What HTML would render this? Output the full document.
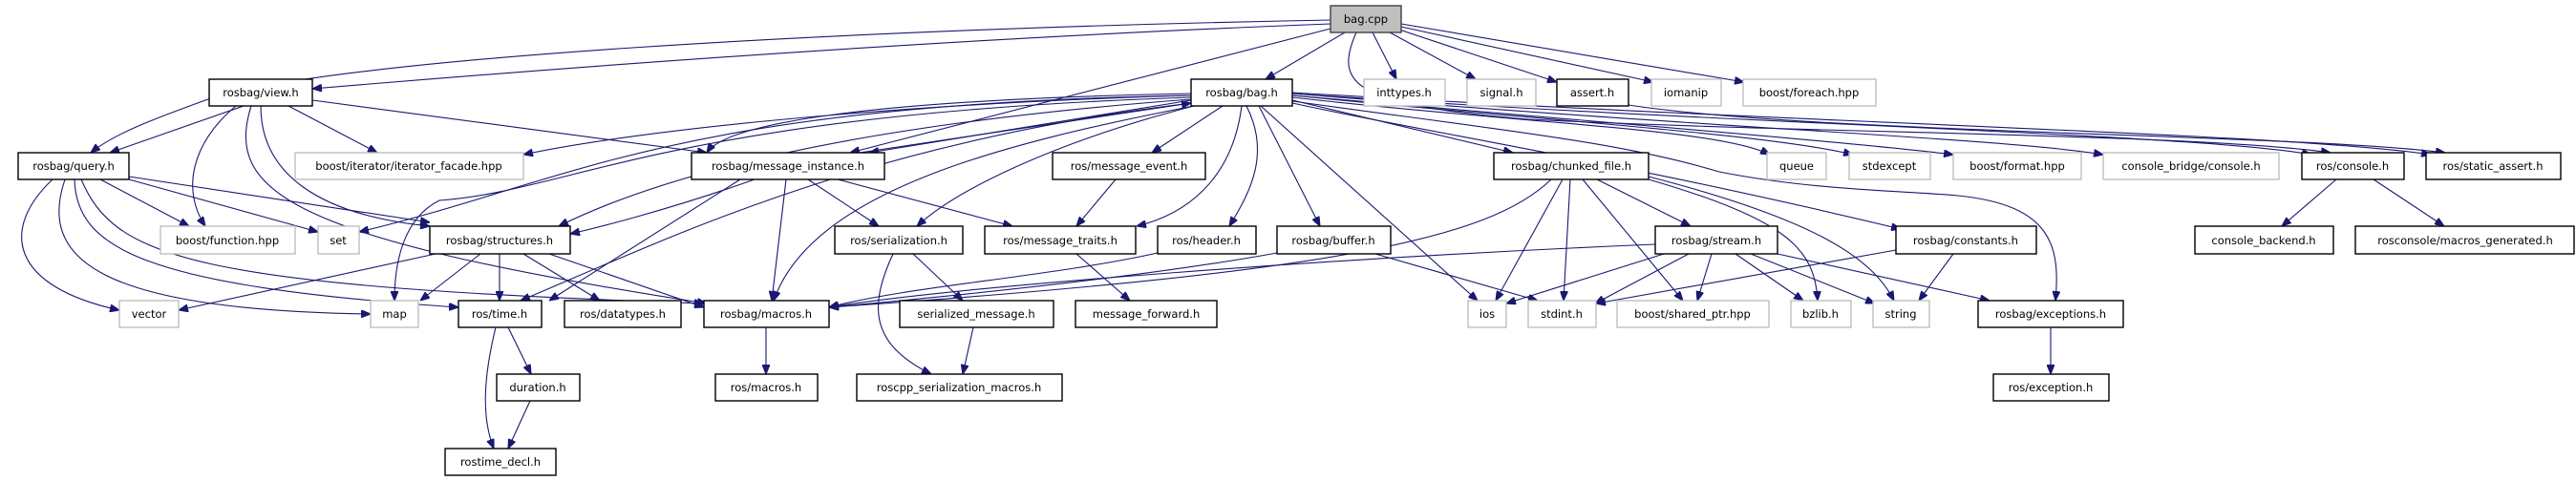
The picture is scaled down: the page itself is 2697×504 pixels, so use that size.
<!DOCTYPE html>
<html><head><meta charset="utf-8"><style>
html,body{margin:0;padding:0;background:#fff}
svg{display:block}
text{font-family:"DejaVu Sans","Liberation Sans",sans-serif;font-size:11.5px;fill:#000}
.b{fill:#fff;stroke:#000;stroke-width:1.4}
.g{fill:#fff;stroke:#bfbfbf;stroke-width:1.4}
.r{fill:#bfbfbf;stroke:#404040;stroke-width:1.4}
path{fill:none;stroke:#191970;stroke-width:1.1}
</style></head><body>
<svg width="2697" height="504" viewBox="0 0 2697 504" xmlns="http://www.w3.org/2000/svg">
<defs><marker id="a" markerWidth="10" markerHeight="8" refX="10" refY="4" orient="auto" markerUnits="userSpaceOnUse"><path d="M0,0 L10,4 L0,8 Z" style="fill:#191970;stroke:#191970"/></marker></defs>
<g marker-end="url(#a)">
<path d="M1393,21 C900,30 350,60 215,105 C160,125 120,140 95,160"/>
<path d="M1393,25 C1000,40 600,70 327,93"/>
<path d="M1393,30 L890,160"/>
<path d="M1408,34 L1325,83"/>
<path d="M1420,34 C1395,90 1420,110 1600,125 C1900,140 2300,140 2440,160"/>
<path d="M1437,34 L1462,83"/>
<path d="M1455,34 L1545,83"/>
<path d="M1465,31 L1630,86"/>
<path d="M1467,28 L1731,86"/>
<path d="M1467,25 L1826,86"/>
<path d="M1705,110 C1900,140 2400,140 2560,160"/>
<path d="M255,111 L115,160"/>
<path d="M247,111 C200,150 190,200 215,237"/>
<path d="M273,111 C273,180 330,225 450,237"/>
<path d="M263,111 C235,200 300,250 740,318"/>
<path d="M302,111 L395,160"/>
<path d="M327,105 L740,160"/>
<path d="M55,188 C0,240 10,300 125,325"/>
<path d="M68,188 C40,270 100,325 388,329"/>
<path d="M78,188 C80,260 150,300 480,322"/>
<path d="M85,188 C120,270 200,300 737,318"/>
<path d="M105,188 L198,237"/>
<path d="M135,188 L333,243"/>
<path d="M135,185 L450,233"/>
<path d="M1247,105 L910,160"/>
<path d="M1247,98 C900,105 760,130 740,160"/>
<path d="M1247,100 C900,110 650,140 548,162"/>
<path d="M1247,100 C700,110 600,190 376,243"/>
<path d="M1247,102 C700,120 600,200 460,210 C420,230 413,280 413,315"/>
<path d="M1247,104 C900,130 700,180 585,237"/>
<path d="M1250,111 C1050,150 850,200 810,315"/>
<path d="M1250,111 C1100,150 1000,200 960,237"/>
<path d="M1300,111 C1290,190 1240,225 1190,237"/>
<path d="M1305,111 C1330,160 1310,200 1287,237"/>
<path d="M1280,111 L1206,160"/>
<path d="M1318,111 L1382,237"/>
<path d="M1320,111 L1547,315"/>
<path d="M1353,105 L1584,160"/>
<path d="M1353,102 C1600,130 1800,135 1853,162"/>
<path d="M1353,100 C1600,125 1850,140 1940,162"/>
<path d="M1353,100 C1700,130 1950,150 2045,162"/>
<path d="M1353,98 C1800,135 2100,145 2202,162"/>
<path d="M1353,98 C1800,130 2300,140 2420,162"/>
<path d="M1353,97 C1900,130 2400,140 2545,162"/>
<path d="M1353,108 C1500,140 1700,170 1990,240"/>
<path d="M1353,106 C1600,140 1700,150 1800,180 C1900,200 2000,200 2050,205 C2150,215 2157,260 2152,315"/>
<path d="M1247,108 C900,150 700,250 545,315"/>
<path d="M790,188 C700,220 620,240 597,245"/>
<path d="M775,188 L575,315"/>
<path d="M823,188 L808,315"/>
<path d="M846,188 L920,237"/>
<path d="M877,188 L1060,237"/>
<path d="M900,160 L1247,108"/>
<path d="M456,266 L187,325"/>
<path d="M503,266 L440,315"/>
<path d="M523,266 L523,315"/>
<path d="M548,266 L628,315"/>
<path d="M575,266 L737,322"/>
<path d="M519,343 C505,400 505,440 517,470"/>
<path d="M532,343 L556,392"/>
<path d="M555,420 L532,470"/>
<path d="M935,266 C910,320 910,360 975,392"/>
<path d="M956,266 L1008,315"/>
<path d="M1019,343 L1008,392"/>
<path d="M802,343 L802,392"/>
<path d="M1127,266 L1183,315"/>
<path d="M1168,188 L1127,237"/>
<path d="M1212,265 C1100,290 950,300 868,322"/>
<path d="M1337,265 C1200,290 1000,310 868,322"/>
<path d="M1440,266 L1610,315"/>
<path d="M1624,188 C1560,250 1400,285 868,322"/>
<path d="M1636,188 L1566,315"/>
<path d="M1644,188 L1637,315"/>
<path d="M1657,188 L1762,315"/>
<path d="M1672,188 L1770,237"/>
<path d="M1726,188 C1870,230 1900,260 1903,315"/>
<path d="M1726,185 C1900,230 1960,270 1983,315"/>
<path d="M1733,256 C1400,270 1000,300 868,322"/>
<path d="M1742,266 L1577,318"/>
<path d="M1768,266 L1670,318"/>
<path d="M1792,266 L1777,315"/>
<path d="M1817,266 L1888,315"/>
<path d="M1833,266 L1963,318"/>
<path d="M1861,266 L2083,315"/>
<path d="M1985,262 L1671,318"/>
<path d="M2045,266 L2009,315"/>
<path d="M2147,343 L2147,392"/>
<path d="M2446,188 L2389,237"/>
<path d="M2485,188 L2559,237"/>
</g>
<g text-anchor="middle">
<rect class="r" x="1393" y="6" width="74" height="28"/><text x="1430" y="24">bag.cpp</text>
<rect class="b" x="219" y="83" width="108" height="28"/><text x="273" y="101">rosbag/view.h</text>
<rect class="b" x="1247" y="83" width="106" height="28"/><text x="1300" y="101">rosbag/bag.h</text>
<rect class="g" x="1428" y="83" width="85" height="28"/><text x="1470" y="101">inttypes.h</text>
<rect class="g" x="1536" y="83" width="72" height="28"/><text x="1572" y="101">signal.h</text>
<rect class="b" x="1630" y="83" width="75" height="28"/><text x="1667" y="101">assert.h</text>
<rect class="g" x="1729" y="83" width="73" height="28"/><text x="1765" y="101">iomanip</text>
<rect class="g" x="1825" y="83" width="139" height="28"/><text x="1894" y="101">boost/foreach.hpp</text>
<rect class="b" x="19" y="160" width="116" height="28"/><text x="77" y="178">rosbag/query.h</text>
<rect class="g" x="309" y="160" width="239" height="28"/><text x="428" y="178">boost/iterator/iterator_facade.hpp</text>
<rect class="b" x="724" y="160" width="202" height="28"/><text x="825" y="178">rosbag/message_instance.h</text>
<rect class="b" x="1102" y="160" width="160" height="28"/><text x="1182" y="178">ros/message_event.h</text>
<rect class="b" x="1564" y="160" width="162" height="28"/><text x="1645" y="178">rosbag/chunked_file.h</text>
<rect class="g" x="1850" y="160" width="62" height="28"/><text x="1881" y="178">queue</text>
<rect class="g" x="1936" y="160" width="85" height="28"/><text x="1978" y="178">stdexcept</text>
<rect class="g" x="2045" y="160" width="134" height="28"/><text x="2112" y="178">boost/format.hpp</text>
<rect class="g" x="2202" y="160" width="184" height="28"/><text x="2294" y="178">console_bridge/console.h</text>
<rect class="b" x="2410" y="160" width="107" height="28"/><text x="2463" y="178">ros/console.h</text>
<rect class="b" x="2540" y="160" width="141" height="28"/><text x="2610" y="178">ros/static_assert.h</text>
<rect class="g" x="168" y="237" width="141" height="29"/><text x="238" y="256">boost/function.hpp</text>
<rect class="g" x="333" y="237" width="43" height="29"/><text x="354" y="256">set</text>
<rect class="b" x="450" y="237" width="147" height="29"/><text x="523" y="256">rosbag/structures.h</text>
<rect class="b" x="874" y="237" width="134" height="29"/><text x="941" y="256">ros/serialization.h</text>
<rect class="b" x="1031" y="237" width="158" height="29"/><text x="1110" y="256">ros/message_traits.h</text>
<rect class="b" x="1212" y="237" width="103" height="29"/><text x="1263" y="256">ros/header.h</text>
<rect class="b" x="1337" y="237" width="119" height="29"/><text x="1396" y="256">rosbag/buffer.h</text>
<rect class="b" x="1733" y="237" width="128" height="29"/><text x="1797" y="256">rosbag/stream.h</text>
<rect class="b" x="1985" y="237" width="147" height="29"/><text x="2058" y="256">rosbag/constants.h</text>
<rect class="b" x="2298" y="237" width="145" height="29"/><text x="2370" y="256">console_backend.h</text>
<rect class="b" x="2466" y="237" width="229" height="29"/><text x="2581" y="256">rosconsole/macros_generated.h</text>
<rect class="g" x="125" y="315" width="62" height="28"/><text x="156" y="333">vector</text>
<rect class="g" x="388" y="315" width="50" height="28"/><text x="413" y="333">map</text>
<rect class="b" x="480" y="315" width="87" height="28"/><text x="523" y="333">ros/time.h</text>
<rect class="b" x="591" y="315" width="122" height="28"/><text x="652" y="333">ros/datatypes.h</text>
<rect class="b" x="737" y="315" width="131" height="28"/><text x="802" y="333">rosbag/macros.h</text>
<rect class="b" x="942" y="315" width="161" height="28"/><text x="1022" y="333">serialized_message.h</text>
<rect class="b" x="1126" y="315" width="148" height="28"/><text x="1200" y="333">message_forward.h</text>
<rect class="g" x="1537" y="315" width="40" height="28"/><text x="1557" y="333">ios</text>
<rect class="g" x="1600" y="315" width="71" height="28"/><text x="1635" y="333">stdint.h</text>
<rect class="g" x="1693" y="315" width="159" height="28"/><text x="1772" y="333">boost/shared_ptr.hpp</text>
<rect class="g" x="1875" y="315" width="63" height="28"/><text x="1906" y="333">bzlib.h</text>
<rect class="g" x="1961" y="315" width="59" height="28"/><text x="1990" y="333">string</text>
<rect class="b" x="2071" y="315" width="152" height="28"/><text x="2147" y="333">rosbag/exceptions.h</text>
<rect class="b" x="520" y="392" width="87" height="28"/><text x="563" y="410">duration.h</text>
<rect class="b" x="749" y="392" width="107" height="28"/><text x="802" y="410">ros/macros.h</text>
<rect class="b" x="897" y="392" width="215" height="28"/><text x="1004" y="410">roscpp_serialization_macros.h</text>
<rect class="b" x="2087" y="392" width="121" height="28"/><text x="2147" y="410">ros/exception.h</text>
<rect class="b" x="466" y="470" width="116" height="28"/><text x="524" y="488">rostime_decl.h</text>
</g>
</svg>
</body></html>
